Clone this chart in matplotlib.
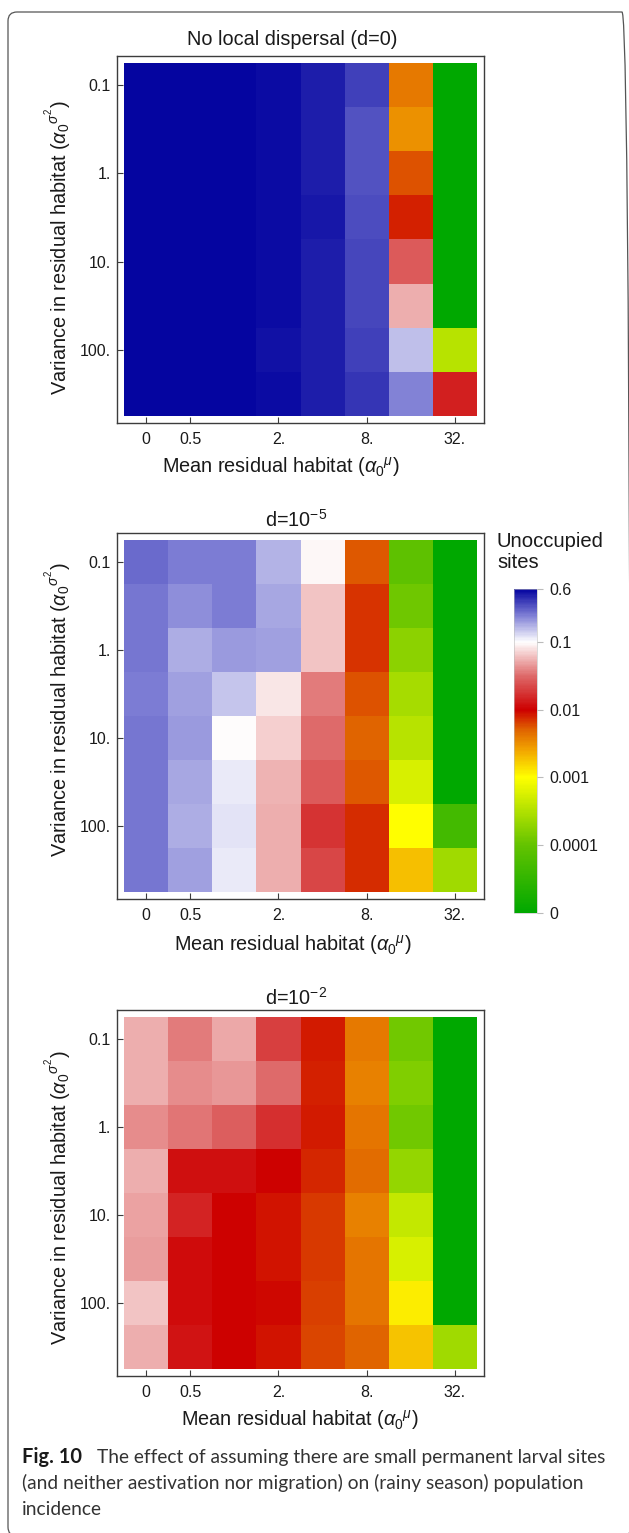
import numpy as np
import matplotlib
matplotlib.use("Agg")
import matplotlib.pyplot as plt
from matplotlib.colors import LinearSegmentedColormap, FuncNorm
from matplotlib.cm import ScalarMappable
from matplotlib.patches import FancyBboxPatch

# grid of residual habitat parameters (columns = mean, rows = variance)
mean_habitat = [0, 0.5, 1, 2, 4, 8, 16, 32]
mean_labels = ["0", "0.5", "", "2.", "", "8.", "", "32."]
var_habitat = [0.1, 0.3, 1, 3, 10, 30, 100, 300]
var_labels = ["0.1", "", "1.", "", "10.", "", "100.", ""]

# fraction of unoccupied sites
unocc_d0 = [
    [0.587, 0.578, 0.583, 0.566, 0.50, 0.380, 0.00405, 0],
    [0.587, 0.578, 0.583, 0.566, 0.50, 0.343, 0.0031, 0],
    [0.587, 0.587, 0.578, 0.572, 0.50, 0.343, 0.00575, 0],
    [0.587, 0.587, 0.578, 0.572, 0.52, 0.353, 0.0081, 0],
    [0.587, 0.583, 0.578, 0.566, 0.49, 0.369, 0.0268, 0],
    [0.587, 0.578, 0.578, 0.572, 0.50, 0.369, 0.054, 0],
    [0.587, 0.583, 0.578, 0.550, 0.49, 0.388, 0.153, 0.00035],
    [0.587, 0.587, 0.578, 0.566, 0.50, 0.408, 0.243, 0.0139],
]
unocc_d5 = [
    [0.28, 0.246, 0.246, 0.168, 0.093, 0.0054, 8.9e-5, 0],
    [0.26, 0.223, 0.246, 0.183, 0.0617, 0.0071, 1.16e-4, 0],
    [0.26, 0.176, 0.199, 0.189, 0.0617, 0.0071, 1.81e-4, 0],
    [0.251, 0.192, 0.148, 0.081, 0.0355, 0.00556, 2.63e-4, 0],
    [0.26, 0.199, 0.0963, 0.068, 0.0316, 0.005, 3.5e-4, 0],
    [0.26, 0.185, 0.115, 0.0553, 0.0268, 0.0054, 5.52e-4, 0],
    [0.26, 0.179, 0.119, 0.052, 0.0173, 0.0073, 0.001, 4.8e-5],
    [0.26, 0.196, 0.113, 0.054, 0.0211, 0.0073, 0.00195, 2.44e-4],
]
unocc_d2 = [
    [0.054, 0.0355, 0.05, 0.0193, 0.0084, 0.00405, 1.25e-4, 0],
    [0.054, 0.0414, 0.044, 0.0316, 0.00785, 0.00365, 1.52e-4, 0],
    [0.0407, 0.0341, 0.0283, 0.0164, 0.0084, 0.00427, 1.25e-4, 0],
    [0.052, 0.0118, 0.0118, 0.01, 0.00759, 0.0045, 2.1e-4, 0],
    [0.0482, 0.0147, 0.01, 0.0087, 0.00684, 0.00365, 4.1e-4, 0],
    [0.0464, 0.0112, 0.01, 0.0087, 0.0066, 0.00414, 5.52e-4, 0],
    [0.063, 0.0114, 0.01, 0.00966, 0.00638, 0.00427, 0.00119, 0],
    [0.054, 0.0124, 0.01, 0.0087, 0.00625, 0.005, 0.00185, 2.44e-4],
]
panel_titles = ["No local dispersal (d=0)", r"d=10$^{-5}$", r"d=10$^{-2}$"]

cbar_values = [0.6, 0.1, 0.01, 0.001, 0.0001, 1e-5]
cbar_labels = ["0.6", "0.1", "0.01", "0.001", "0.0001", "0"]

plt.rcParams["font.family"] = ["Liberation Sans", "DejaVu Sans"]
plt.rcParams["mathtext.fontset"] = "custom"
plt.rcParams["mathtext.rm"] = "Liberation Sans"
plt.rcParams["mathtext.it"] = "Liberation Sans:italic"
plt.rcParams["mathtext.bf"] = "Liberation Sans:bold"

# colour scale: log10 of the value -> colour
vmin, vmax = 1e-5, 0.6
lo, hi = np.log10(vmin), np.log10(vmax)
anchors = [(-5.0, (0, 168, 0)), (-4.0, (100, 195, 0)), (-3.0, (255, 255, 0)),
           (-2.6, (242, 165, 0)), (-2.3, (224, 100, 0)), (-2.0, (205, 0, 0)),
           (-1.5, (222, 105, 105)), (-1.0, (255, 255, 255)),
           (-0.6, (125, 125, 212)), (hi, (5, 5, 160))]
cmap = LinearSegmentedColormap.from_list(
    "unocc", [((a - lo) / (hi - lo), tuple(c / 255 for c in rgb)) for a, rgb in anchors])
norm = FuncNorm((lambda x: np.log10(np.maximum(x, vmin)), lambda y: 10.0 ** y),
                vmin=vmin, vmax=vmax)

W, H = 629, 1533
fig = plt.figure(figsize=(W / 100, H / 100), dpi=100)


def fx(px):
    return px / W


def fy(py):
    return 1 - py / H


frame_col = "#3c3c3c"
left, right = 117, 484
tops = [56, 533, 1010]
bottoms = [423, 899, 1376]
title_base = [45, 527, 1005]
title_x = [292, 296, 296]
xlab_base = [473, 951, 1426]
xlab_x = [281, 293, 300]
ylab_y = [248, 710, 1198]

xt = [i for i, s in enumerate(mean_labels) if s]
yt = [i for i, s in enumerate(var_labels) if s]
edges_x = np.arange(len(mean_habitat) + 1) - 0.5
edges_y = np.arange(len(var_habitat) + 1) - 0.5

for k, data in enumerate([unocc_d0, unocc_d5, unocc_d2]):
    ax = fig.add_axes([fx(left), fy(bottoms[k]), fx(right - left),
                       (bottoms[k] - tops[k]) / H])
    ax.pcolormesh(edges_x, edges_y, np.array(data), cmap=cmap, norm=norm)
    ax.set_xlim(-0.66, 7.66)
    ax.set_ylim(7.66, -0.66)
    ax.set_xticks(xt, [mean_labels[i] for i in xt])
    ax.set_yticks(yt, [var_labels[i] for i in yt])
    ax.tick_params(direction="in", length=4.5, width=0.8, color=frame_col,
                   labelsize=11.5, labelcolor="#1a1a1a")
    ax.tick_params(axis="x", pad=6.5)
    ax.tick_params(axis="y", pad=4.5)
    for sp in ax.spines.values():
        sp.set_color(frame_col)
        sp.set_linewidth(1.0)

    fig.text(fx(title_x[k]), fy(title_base[k]), panel_titles[k], ha="center",
             va="baseline", fontsize=14.3, color="#1a1a1a")
    fig.text(fx(xlab_x[k]), fy(xlab_base[k]),
             r"Mean residual habitat ($\alpha_0{}^{\mu}$)", ha="center",
             va="baseline", fontsize=14.3, color="#1a1a1a")
    fig.text(fx(67), fy(ylab_y[k]),
             r"Variance in residual habitat ($\alpha_0{}^{\sigma^2}$)",
             rotation=90, rotation_mode="anchor", ha="center", va="baseline",
             fontsize=14.3, color="#1a1a1a")

# colour bar
cax = fig.add_axes([fx(514), fy(913), fx(537 - 514), (913 - 589) / H])
cb = fig.colorbar(ScalarMappable(norm=norm, cmap=cmap), cax=cax)
cb.set_ticks(cbar_values, labels=cbar_labels)
cb.outline.set_linewidth(0.4)
cb.outline.set_edgecolor("#bbbbbb")
cax.tick_params(length=4, width=0.8, color="#bbbbbb", labelsize=11.5,
                labelcolor="#1a1a1a", pad=5)
cax.minorticks_off()
fig.text(fx(497), fy(547), "Unoccupied", fontsize=14.6, va="baseline", color="#1a1a1a")
fig.text(fx(497), fy(568), "sites", fontsize=14.6, va="baseline", color="#1a1a1a")

# caption
cap_font = ["Lato", "DejaVu Sans"]
cap_size = 13.8
fig.text(fx(22), fy(1463), "Fig. 10", family=cap_font, fontweight="bold",
         fontsize=cap_size + 0.6, color="#1a1a1a", va="baseline")
fig.text(fx(97), fy(1463),
         "The effect of assuming there are small permanent larval sites",
         family=cap_font, fontsize=cap_size, color="#333333", va="baseline")
fig.text(fx(22), fy(1489),
         "(and neither aestivation nor migration) on (rainy season) population",
         family=cap_font, fontsize=cap_size, color="#333333", va="baseline")
fig.text(fx(22), fy(1515), "incidence", family=cap_font, fontsize=cap_size,
         color="#333333", va="baseline")

# rounded frame around the whole figure (right and bottom edges run off the page)
box = FancyBboxPatch((0.08, -0.03), 6.23, 15.24,
                     boxstyle="round,pad=0,rounding_size=0.09",
                     transform=fig.dpi_scale_trans, fill=False,
                     edgecolor="#555555", linewidth=0.9)
fig.add_artist(box)

fig.savefig("out.png", dpi=100)
